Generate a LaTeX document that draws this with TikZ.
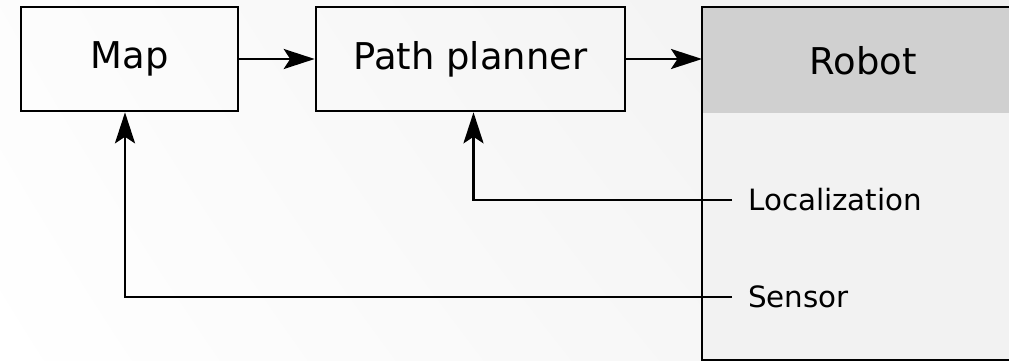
\documentclass[tikz,border=0pt]{standalone}
\usepackage{fontspec}
\setmainfont{DejaVu Sans}
\usetikzlibrary{arrows.meta,shadings}

\begin{document}
\begin{tikzpicture}[x=0.02cm,y=-0.02cm,line width=1.5pt,
    >={Stealth[length=0.62cm,width=0.4cm,inset=0.13cm]},
    block/.style={draw,minimum height=2.08cm,inner sep=0pt,font=\fontsize{21}{25}\selectfont},
    port/.style={anchor=west,inner sep=0pt,font=\fontsize{16.7}{20}\selectfont}]
        % Page frame and the light background
        \clip (0,0) rectangle (1009,361);
        \shade [lower left=white,upper left=gray!2,upper right=gray!12,lower right=gray!9]
          (0,0) rectangle (1009,361);

        % The two blocks on the left
        \node [block,minimum width=4.34cm] (map) at (129.5,59) {Map};
        \node [block,minimum width=6.18cm] (planner) at (470.5,59) {Path planner};

        % The robot, running out of the page on the right
        \node [fill=gray!10,minimum width=6.4cm,minimum height=7.02cm,anchor=north west] (robot) at (702,7) {};
        \node [fill=gray!37,minimum width=6.4cm,minimum height=2.1cm,anchor=north west,
          font=\fontsize{21}{25}\selectfont] (head) at (robot.north west) {Robot};
        \draw (robot.north west) rectangle (robot.south east);

        % Outputs of the robot
        \foreach \name/\lab/\y in {loc/Localization/200, sens/Sensor/297} {
          \node [port] (\name) at (747,\y) {\lab};
          \coordinate (\name pin) at (732,\y);
        }

        % Connectors
        \draw [->] (map) -- (planner);
        \draw [->] (planner.east) -- (planner.east -| robot.west);
        \draw [->] (locpin) -| ([xshift=0.06cm]planner.south);
        \draw [->] (senspin) -| ([xshift=-0.09cm]map.south);
\end{tikzpicture}
\end{document}
